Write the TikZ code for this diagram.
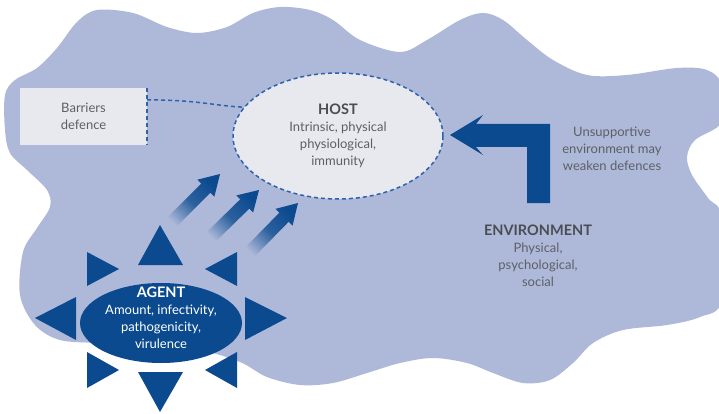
\documentclass[tikz,border=0pt]{standalone}
\usepackage{fontspec}
\setmainfont{Lato}
\usetikzlibrary{calc,shapes.geometric}
\definecolor{blob}{HTML}{AEB9D9}
\definecolor{dkblue}{HTML}{0B4A8F}
\definecolor{lgrey}{HTML}{E7E9EE}
\definecolor{txtgrey}{HTML}{5C6066}
\definecolor{ttlgrey}{HTML}{4A4E54}
\definecolor{dashblue}{HTML}{2E62AC}
\newcommand\ttlfont{\fontsize{14.5}{17}\selectfont\bfseries}
\begin{document}
\begin{tikzpicture}[x=1pt,y=-1pt,
  txt/.style={align=center, text=txtgrey, font=\fontsize{13}{17}\selectfont, inner sep=0pt},
  dashline/.style={draw=dashblue, line width=1.5pt, dash pattern=on 4pt off 3pt},
  startri/.style={fill=dkblue},
  fadearrow/.style={top color=dkblue, bottom color=blob, middle color=dkblue!80!blob, shading angle=-45}
]
\useasboundingbox (0,0) rectangle (719,414);
\fill[white] (0,0) rectangle (719,414);
\begin{scope}
\clip (0,0) rectangle (719,414);
\fill[blob] plot[smooth cycle, tension=0.55] coordinates {
 (5,95) (15,80) (37,68) (57,48) (77,22) (97,10) (133,13) (167,27) (197,33) (227,27)
 (253,13) (280,7) (310,10) (333,20) (360,40) (400,52) (427,40) (460,20) (483,13) (503,20)
 (527,40) (553,60) (587,75) (627,75) (677,68) (707,70) (722,85) (722,122) (695,140) (687,157)
 (692,175) (708,198) (722,218) (722,300) (700,317) (667,325) (623,330) (593,343) (573,363) (550,380)
 (523,383) (493,373) (467,363) (433,358) (400,363) (367,373) (333,383) (300,385) (267,377) (240,362)
 (200,350) (150,345) (100,343) (60,340) (35,325) (20,295) (23,252) (37,228) (50,207) (47,190)
 (27,170) (10,153) (5,130)};
\end{scope}

% Barriers box
\node[txt, fill=lgrey, minimum width=127pt, minimum height=57pt] (barr) at (83.5,116.5) {Barriers\\defence};
\draw[dashline] (barr.north east) -- (barr.south east);

% Host
\node[ellipse, dashline, fill=lgrey,
      minimum width=210pt, minimum height=126pt, inner sep=0pt] (host) at (338,136) {};
\node[txt] (hostlbl) at (338,136) {{\ttlfont\color{ttlgrey}HOST}\\Intrinsic, physical\\physiological,\\immunity};

\coordinate (c1) at ($(barr.north east)+(0,12)$);
\draw[dashline] (c1) .. controls (200,100) and (215,106) .. (host.163);

% Environment bent arrow
\fill[dkblue] (450,135) -- (483,115) -- (476,124) -- (550,124) -- (550,203) -- (527,203)
  -- (527,147) -- (476,147) -- (483,155) -- cycle;

\node[txt] (unsup) at (612,149) {Unsupportive\\environment may\\weaken defences};
\node[txt] (env) at (538,255.5) {{\ttlfont\color{ttlgrey}ENVIRONMENT}\\Physical,\\psychological,\\social};

% Agent star
\fill[startri] (160,225) -- (138,265) -- (183,265) -- cycle;
\fill[startri] (160,412) -- (138,372) -- (183,372) -- cycle;
\fill[startri] (35,318) -- (76,297) -- (76,340) -- cycle;
\fill[startri] (287,318) -- (245,297) -- (245,340) -- cycle;
\fill[startri] (87,252) -- (119,269) -- (87,286) -- cycle;
\fill[startri] (237,252) -- (205,269) -- (237,286) -- cycle;
\fill[startri] (87,352) -- (119,370) -- (87,388) -- cycle;
\fill[startri] (237,352) -- (205,370) -- (237,388) -- cycle;
\node[ellipse, fill=dkblue, minimum width=162pt, minimum height=80pt, inner sep=0pt] (agent) at (161,323) {};
\node[txt, text=white] (agentlbl) at (161,318) {{\ttlfont AGENT}\\Amount, infectivity,\\pathogenicity,\\virulence};

% Gradient arrows agent -> host
\coordinate (t1) at (168,226); \coordinate (p1) at (220,174);
\coordinate (t2) at (207,241); \coordinate (p2) at (259,190);
\coordinate (t3) at (246,256); \coordinate (p3) at (298,203);
\foreach \i in {1,2,3}{
  \coordinate (b\i) at ($(p\i)!20pt!(t\i)$);
  \shade[fadearrow] ($(t\i)!6.5pt!90:(p\i)$) -- ($(b\i)!6.5pt!90:(p\i)$) -- ($(b\i)!12pt!90:(p\i)$)
    -- (p\i) -- ($(b\i)!12pt!-90:(p\i)$) -- ($(b\i)!6.5pt!-90:(p\i)$) -- ($(t\i)!6.5pt!-90:(p\i)$) -- cycle;
}
\end{tikzpicture}
\end{document}
